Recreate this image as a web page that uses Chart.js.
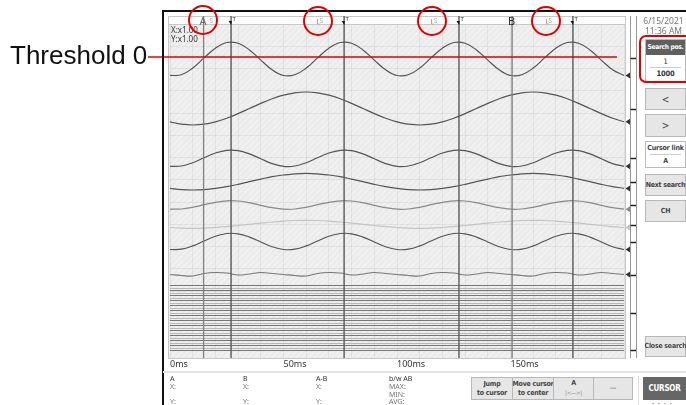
<!DOCTYPE html>
<html><head><meta charset="utf-8">
<script src="https://cdn.jsdelivr.net/npm/chart.js@4/dist/chart.umd.min.js"></script>
<style>
html,body{margin:0;padding:0;background:#fff;width:686px;height:405px;overflow:hidden;font-family:"Noto Sans","DejaVu Sans",sans-serif;}
#c{position:absolute;left:0;top:0;}
.a{position:absolute;white-space:nowrap;}
.btn{position:absolute;box-sizing:border-box;background:#e6e6e6;border:1px solid #b8b8b8;color:#444;font-weight:bold;font-size:7px;letter-spacing:-0.25px;font-family:"Liberation Sans Narrow","DejaVu Sans Condensed",Roboto,sans-serif;display:flex;align-items:center;justify-content:center;text-align:center;line-height:9px;white-space:nowrap;}
.n{font-family:"Liberation Sans Narrow","DejaVu Sans Condensed",Roboto,sans-serif;letter-spacing:-0.2px;}
.circ{position:absolute;box-sizing:border-box;width:30px;height:30px;border:2px solid #e00000;border-radius:50%;}
.info{position:absolute;font-size:7px;color:#333;line-height:8px;}
.info.g{color:#777;}
</style></head>
<body>
<canvas id="c" width="686" height="405"></canvas>

<div class="a" style="left:0;top:0;width:686px;height:405px;pointer-events:none;">
  <div class="a" style="left:10px;top:40px;font-family:'Liberation Sans',Arial,sans-serif;font-size:26px;color:#111;line-height:30px;">Threshold 0</div>
  <div class="a" style="left:162px;top:10px;width:524px;height:2px;background:#111;"></div>
  <div class="a" style="left:162px;top:10px;width:2px;height:395px;background:#111;"></div>

  <div class="a" style="left:171px;top:26px;font-size:8px;line-height:8.5px;color:#333;">X:x1.00<br>Y:x1.00</div>

  <div class="a" style="left:641px;top:16px;width:45px;text-align:center;font-size:8.5px;line-height:10px;color:#777;">6/15/2021<br>11:36 AM</div>
  <div class="a n" style="left:645px;top:39px;width:41px;height:43px;box-sizing:border-box;border:1px solid #bbb;background:#fff;">
    <div style="background:#5f5f5f;color:#fff;font-weight:bold;font-size:6.6px;height:15px;line-height:15px;text-align:center;letter-spacing:-0.3px;">Search pos.</div>
    <div style="font-size:7.5px;color:#333;text-align:center;height:12px;line-height:13px;">1</div>
    <div style="margin:0 4px;border-top:1px solid #ccc;"></div>
    <div style="font-size:7.5px;font-weight:bold;color:#333;text-align:center;line-height:12px;">1000</div>
  </div>
  <div class="a" style="left:639px;top:35px;width:54px;height:48px;box-sizing:border-box;border:2.5px solid #e00000;border-radius:7px;"></div>
  <div class="btn" style="left:645px;top:88px;width:41px;height:22px;font-weight:normal;font-size:10px;">&lt;</div>
  <div class="btn" style="left:645px;top:114px;width:41px;height:23px;font-weight:normal;font-size:10px;">&gt;</div>
  <div class="a n" style="left:645px;top:141px;width:41px;height:27px;box-sizing:border-box;border:1px solid #bbb;background:#fff;">
    <div style="font-size:7px;font-weight:bold;color:#444;text-align:center;line-height:12px;">Cursor link</div>
    <div style="margin:0 4px;border-top:1px solid #ccc;"></div>
    <div style="font-size:7px;font-weight:bold;color:#444;text-align:center;line-height:12px;">A</div>
  </div>
  <div class="btn" style="left:645px;top:174px;width:41px;height:22px;">Next search</div>
  <div class="btn" style="left:645px;top:200px;width:41px;height:22px;">CH</div>
  <div class="btn" style="left:645px;top:336px;width:41px;height:21px;">Close search</div>

  <div class="a" style="left:163px;top:371px;width:523px;height:2px;background:#e4e4e4;"></div>
  <div class="info" style="left:170px;top:375px;">A</div>
  <div class="info g" style="left:170px;top:383px;">X:</div>
  <div class="info g" style="left:170px;top:398px;">Y:</div>
  <div class="info" style="left:243px;top:375px;">B</div>
  <div class="info g" style="left:243px;top:383px;">X:</div>
  <div class="info g" style="left:243px;top:398px;">Y:</div>
  <div class="info" style="left:316px;top:375px;">A-B</div>
  <div class="info g" style="left:316px;top:383px;">X:</div>
  <div class="info g" style="left:316px;top:398px;">Y:</div>
  <div class="info" style="left:389px;top:375px;">b/w AB</div>
  <div class="info g" style="left:389px;top:383px;">MAX:</div>
  <div class="info g" style="left:389px;top:390.5px;">MIN:</div>
  <div class="info g" style="left:389px;top:398px;">AVG:</div>

  <div class="btn" style="left:471px;top:377px;width:42px;height:23px;"><div>Jump<br>to cursor</div></div>
  <div class="btn" style="left:512px;top:377px;width:42px;height:23px;"><div>Move cursor<br>to center</div></div>
  <div class="btn" style="left:553px;top:377px;width:41px;height:23px;"><div>A<br><span style="font-weight:normal;font-size:6px;color:#888;">|&lt;—&gt;|</span></div></div>
  <div class="btn" style="left:593px;top:377px;width:40px;height:23px;font-weight:normal;">---</div>
  <div class="a" style="left:638px;top:376px;width:1px;height:29px;background:#ddd;"></div>
  <div class="btn" style="left:643px;top:377px;width:43px;height:23px;background:#666;border-color:#666;color:#fff;font-size:8px;">CURSOR</div>
  <div class="a" style="left:652px;top:400px;font-size:6px;color:#999;letter-spacing:1px;">• • • •</div>
  <div id="marks"></div>
  <div class="circ" style="left:188px;top:5px;"></div>
  <div class="circ" style="left:303px;top:6px;"></div>
  <div class="circ" style="left:417px;top:6px;"></div>
  <div class="circ" style="left:531px;top:6px;"></div>
</div>

<script>
// ---------- data (time in ms, level = depth in px-units below the top of the plot frame) ----------
const timesMs = [0,5,10,15,20,25,30,35,40,45,50,55,60,65,70,75,80,85,90,95,100,105,110,115,120,125,130,135,140,145,150,155,160,165,170,175,180,185,190,195,200];
const ch1 = [59.5,58.8,52.1,41.9,32.2,26.5,27.2,33.9,44.1,53.8, 59.5,58.8,52.1,41.9,32.2,26.5,27.2,33.9,44.1,53.8, 59.5,58.8,52.1,41.9,32.2,26.5,27.2,33.9,44.1,53.8, 59.5,58.8,52.1,41.9,32.2,26.5,27.2,33.9,44.1,53.8, 59.5];
const ch2 = [105.8,108.2,109,108.2,105.8,102.2,97.6,92.5,87.4,82.8,79.2,76.8,76,76.8,79.2,82.8,87.4,92.5,97.6,102.2, 105.8,108.2,109,108.2,105.8,102.2,97.6,92.5,87.4,82.8,79.2,76.8,76,76.8,79.2,82.8,87.4,92.5,97.6,102.2, 105.8];
const ch3 = [150.3,150.0,146.7,141.8,137.0,134.3,134.6,137.9,142.8,147.6, 150.3,150.0,146.7,141.8,137.0,134.3,134.6,137.9,142.8,147.6, 150.3,150.0,146.7,141.8,137.0,134.3,134.6,137.9,142.8,147.6, 150.3,150.0,146.7,141.8,137.0,134.3,134.6,137.9,142.8,147.6, 150.3];
const ch4 = [172.4,173.6,174,173.6,172.4,170.6,168.3,165.7,163.1,160.6,159,157.8,157.4,157.8,159,160.6,163.1,165.7,168.3,170.6, 172.4,173.6,174,173.6,172.4,170.6,168.3,165.7,163.1,160.6,159,157.8,157.4,157.8,159,160.6,163.1,165.7,168.3,170.6, 172.4];
const ch5 = [193.2,193.0,191.3,188.7,186.3,184.8,185.0,186.7,189.3,191.7, 193.2,193.0,191.3,188.7,186.3,184.8,185.0,186.7,189.3,191.7, 193.2,193.0,191.3,188.7,186.3,184.8,185.0,186.7,189.3,191.7, 193.2,193.0,191.3,188.7,186.3,184.8,185.0,186.7,189.3,191.7, 193.2];
const ch6 = [211.5,212.1,212.3,212.1,211.5,210.7,209.5,208.3,207.1,206,205.1,204.5,204.3,204.5,205.1,206,207.1,208.3,209.5,210.7, 211.5,212.1,212.3,212.1,211.5,210.7,209.5,208.3,207.1,206,205.1,204.5,204.3,204.5,205.1,206,207.1,208.3,209.5,210.7, 211.5];
const ch7 = [233.5,233.2,229.9,225.0,220.2,217.5,217.8,221.1,226.0,230.8, 233.5,233.2,229.9,225.0,220.2,217.5,217.8,221.1,226.0,230.8, 233.5,233.2,229.9,225.0,220.2,217.5,217.8,221.1,226.0,230.8, 233.5,233.2,229.9,225.0,220.2,217.5,217.8,221.1,226.0,230.8, 233.5];
const ch8 = [258.5,259.5,260,257.5,256.5,257,259,258,256.5,257.5, 258.5,259.5,260,257.5,256.5,257,259,258,256.5,257.5, 258.5,259.5,260,257.5,256.5,257,259,258,256.5,257.5, 258.5,259.5,260,257.5,256.5,257,259,258,256.5,257.5, 258.5];
const digitalLevels = [269.5,272.5,274.5,277.5,279.5,282.5,284.5,287.5,289.5,292.5,294.5,297.5,299.5,302.5,304.5,307.5,309.5,312.5,314.5,317.5,319.5,322.5,324.5,327.5,329.5,332.5,334.5];
const zeroMarks = [42.3,92.7,142.3,165.7,189,209,225.7,259,297.3,334];
const cursorA = 14.8, cursorB = 150.7;
const triggerMarks = [26.9, 76.7, 127.3, 177.5];
const searchMarks = [16.3, 64.8, 115.1, 165.6];
const thresholdLevel = 41;
const thresholdSpan = [-9.7, 196.9];
const xLabelTimes = [0, 50, 100, 150];
const xTickLabels = ['0ms', '50ms', '100ms', '150ms'];
const stripDepth = 8;      // marker strip at top of the plot
const yGridLevels = [8,30.25,52.5,74.75,97,119.25,141.5,163.75,186,208.25,230.5,252.75,275,297.25,319.5,342];

// ---------- chart ----------
Chart.defaults.font.family = '"Noto Sans","DejaVu Sans",sans-serif';
const ctx0 = document.getElementById('c').getContext('2d');
const pc = document.createElement('canvas'); pc.width = 6; pc.height = 6;
const pg = pc.getContext('2d');
pg.fillStyle = '#ebebeb'; pg.fillRect(0,0,6,6);
pg.strokeStyle = '#f3f3f3'; pg.lineWidth = 1.3;
pg.beginPath(); pg.moveTo(0,6); pg.lineTo(6,0); pg.moveTo(-1,1); pg.lineTo(1,-1); pg.moveTo(5,7); pg.lineTo(7,5); pg.stroke();
const hatch = ctx0.createPattern(pc, 'repeat');

const series = (arr) => timesMs.map((t,i) => ({x:t, y:arr[i]}));
const vline = (t) => [{x:t, y:0}, {x:t, y:342}];
const hline = (v) => [{x:0, y:v}, {x:200, y:v}];

const waveStyles = [
  [ch1,'#555'],[ch2,'#555'],[ch3,'#555'],[ch4,'#555'],[ch5,'#8a8a8a'],[ch6,'#c4c4c4'],[ch7,'#555'],[ch8,'#777']
];

const datasets = [];
datasets.push({data:[{x:thresholdSpan[0],y:thresholdLevel},{x:thresholdSpan[1],y:thresholdLevel}], borderColor:'#e00000', borderWidth:1.6, clip:false});
triggerMarks.forEach(t => datasets.push({data:vline(t), borderColor:'#5a5a5a', borderWidth:1.4}));
datasets.push({data:vline(cursorA), borderColor:'#808080', borderWidth:1.3});
datasets.push({data:vline(cursorB), borderColor:'#808080', borderWidth:1.4});
waveStyles.forEach(([d,c]) => datasets.push({data:series(d), borderColor:c, borderWidth:1.2, tension:0.4}));
digitalLevels.forEach((v,i) => datasets.push({data:hline(v), borderColor: i%2 ? '#b8b8b8' : '#777', borderWidth:1}));
datasets.forEach(d => { d.pointRadius = 0; d.fill = false; });

const frame = {
  id: 'frame',
  beforeDraw(c) {
    const {ctx, chartArea:a} = c;
    ctx.save();
    ctx.fillStyle = hatch;
    ctx.fillRect(a.left-1, a.top, a.right-a.left+2, a.bottom-a.top);
    ctx.restore();
  },
  beforeDatasetsDraw(c) {
    const {ctx, chartArea:a, scales:{y}} = c;
    const sb = y.getPixelForValue(stripDepth);
    ctx.save();
    ctx.fillStyle = '#fff';
    ctx.fillRect(a.left-1, a.top, a.right-a.left+2, sb-a.top);
    ctx.fillRect(a.right+1, a.top, 12, a.bottom-a.top);
    ctx.strokeStyle = '#c8c8c8'; ctx.lineWidth = 1;
    ctx.strokeRect(a.left-1.5, a.top+0.5, a.right-a.left+3, a.bottom-a.top);
    ctx.beginPath(); ctx.moveTo(a.left-1, sb+0.5); ctx.lineTo(a.right+1, sb+0.5); ctx.stroke();
    ctx.strokeStyle = '#999';
    ctx.beginPath(); ctx.moveTo(a.right+6.5, a.top); ctx.lineTo(a.right+6.5, a.bottom);
    ctx.moveTo(a.right+12.5, a.top); ctx.lineTo(a.right+12.5, a.bottom); ctx.stroke();
    ctx.restore();
  },
  afterDatasetsDraw(c) {
    const {ctx, chartArea:a, scales:{x,y}} = c;
    ctx.save();
    waveStyles.forEach(([d,col]) => {
      const py = y.getPixelForValue(d[d.length-1]);
      ctx.fillStyle = col === '#555' || col === '#777' ? '#333' : col;
      ctx.beginPath(); ctx.moveTo(a.right+1.5, py); ctx.lineTo(a.right+6, py-3); ctx.lineTo(a.right+6, py+3); ctx.closePath(); ctx.fill();
    });
    ctx.strokeStyle = '#222'; ctx.lineWidth = 1.5;
    zeroMarks.forEach(v => { const py = Math.round(y.getPixelForValue(v))+0.5; ctx.beginPath(); ctx.moveTo(a.right+6.5, py); ctx.lineTo(a.right+12, py); ctx.stroke(); });
    ctx.fillStyle = '#111';
    triggerMarks.forEach(t => { const px = x.getPixelForValue(t);
      ctx.beginPath(); ctx.moveTo(px-2.5, a.top+5); ctx.lineTo(px+0.8, a.top+5); ctx.lineTo(px+0.2, a.top+9); ctx.closePath(); ctx.fill(); });
    ctx.strokeStyle = '#aaa'; ctx.lineWidth = 1;
    searchMarks.slice(1).forEach(t => { const px = Math.round(x.getPixelForValue(t))+0.5;
      ctx.beginPath(); ctx.moveTo(px, a.top+3); ctx.lineTo(px, a.top+8); ctx.lineTo(px+2, a.top+8); ctx.stroke(); });
    ctx.restore();
  }
};

const chart = new Chart(ctx0, {
  type: 'line',
  data: { datasets },
  plugins: [frame],
  options: {
    responsive: false, animation: false, events: [],
    layout: { padding: { left: 170, right: 62, top: 16, bottom: 33 } },
    plugins: { legend: { display: false }, tooltip: { enabled: false } },
    scales: {
      x: {
        type: 'linear', min: 0, max: 200,
        afterFit: s => { s.height = 14; },
        border: { display: false },
        grid: { color: 'rgba(0,0,0,0.055)', drawTicks: false },
        ticks: {
          stepSize: 10, autoSkip: false, maxRotation: 0, align: 'start', padding: 1,
          color: '#333', font: { size: 9 },
          callback: v => { const i = xLabelTimes.indexOf(v); return i >= 0 ? xTickLabels[i] : ''; }
        }
      },
      y: {
        type: 'linear', min: 0, max: 342, reverse: true,
        afterFit: s => { s.width = 0; },
        afterBuildTicks: s => { s.ticks = yGridLevels.map(v => ({value: v})); },
        border: { display: false },
        grid: { color: 'rgba(0,0,0,0.055)', drawTicks: false },
        ticks: { display: false }
      }
    }
  }
});

const xs = chart.scales.x, top0 = chart.chartArea.top;
const marks = document.getElementById('marks');
function put(txt, t, dx, dy, css) {
  const s = document.createElement('div'); s.className = 'a'; s.textContent = txt;
  s.style.cssText += `left:${xs.getPixelForValue(t)+dx}px;top:${top0+dy}px;` + css;
  marks.appendChild(s);
}
put('A', cursorA, -4, -1, 'font-size:11px;line-height:12px;color:#666;');
put('B', cursorB, -4, -1, 'font-size:11px;line-height:12px;color:#222;');
triggerMarks.forEach(t => put('T', t, 1.5, 0, 'font-size:6px;line-height:7px;color:#333;'));
searchMarks.forEach(t => put('S', t, 2.5, 0.5, 'font-size:6.5px;line-height:7px;color:#aaa;'));
</script>
</body></html>
